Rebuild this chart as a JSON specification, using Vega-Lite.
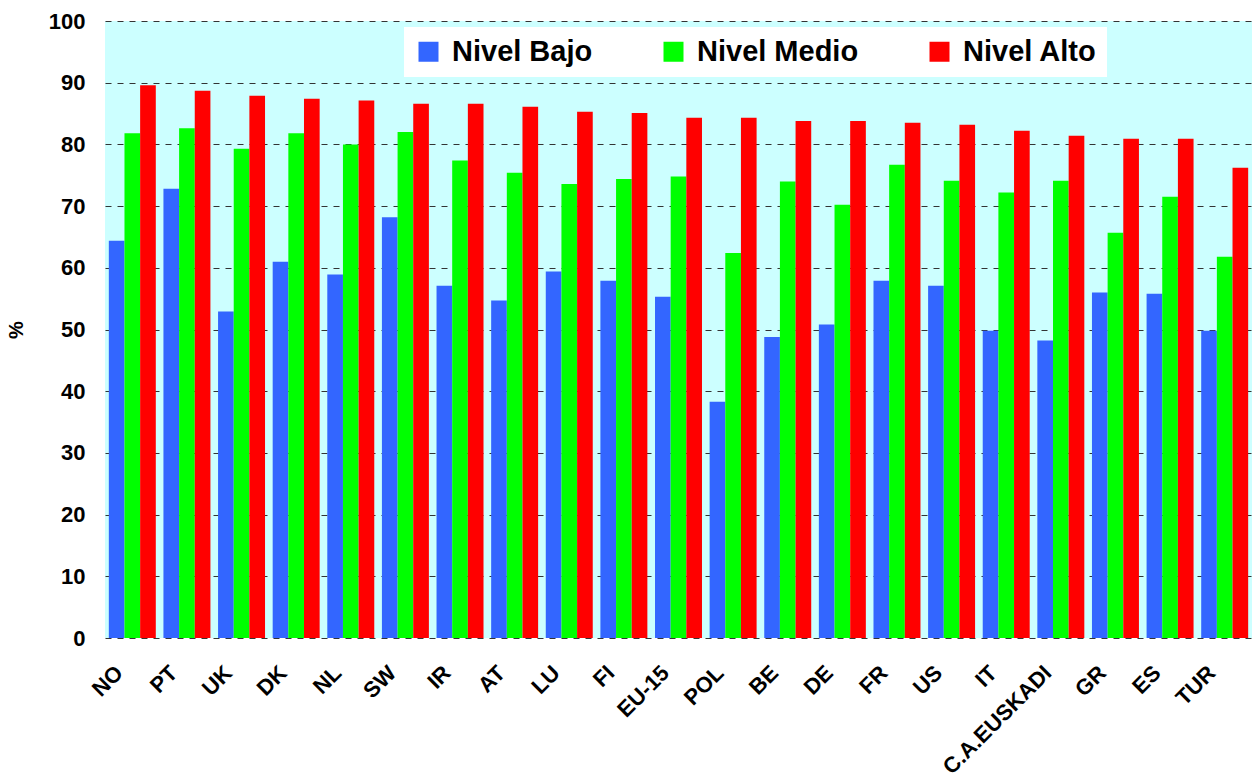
{
  "$schema": "https://vega.github.io/schema/vega-lite/v6.json",
  "width": 1147,
  "height": 617,
  "autosize": {"type": "none"},
  "padding": {"left": 105, "top": 21, "right": 1, "bottom": 144},
  "background": "white",
  "config": {
    "font": "Liberation Sans",
    "view": {"fill": "#CCFFFF", "stroke": null},
    "axis": {"labelFont": "Liberation Sans", "titleFont": "Liberation Sans"}
  },
  "data": {
    "values": [
      {"pais": "NO", "nivel": "Nivel Bajo", "valor": 64.4},
      {"pais": "NO", "nivel": "Nivel Medio", "valor": 81.8},
      {"pais": "NO", "nivel": "Nivel Alto", "valor": 89.6},
      {"pais": "PT", "nivel": "Nivel Bajo", "valor": 72.8},
      {"pais": "PT", "nivel": "Nivel Medio", "valor": 82.6},
      {"pais": "PT", "nivel": "Nivel Alto", "valor": 88.7},
      {"pais": "UK", "nivel": "Nivel Bajo", "valor": 52.9},
      {"pais": "UK", "nivel": "Nivel Medio", "valor": 79.3},
      {"pais": "UK", "nivel": "Nivel Alto", "valor": 87.9},
      {"pais": "DK", "nivel": "Nivel Bajo", "valor": 61.0},
      {"pais": "DK", "nivel": "Nivel Medio", "valor": 81.8},
      {"pais": "DK", "nivel": "Nivel Alto", "valor": 87.4},
      {"pais": "NL", "nivel": "Nivel Bajo", "valor": 58.9},
      {"pais": "NL", "nivel": "Nivel Medio", "valor": 80.0},
      {"pais": "NL", "nivel": "Nivel Alto", "valor": 87.1},
      {"pais": "SW", "nivel": "Nivel Bajo", "valor": 68.2},
      {"pais": "SW", "nivel": "Nivel Medio", "valor": 82.0},
      {"pais": "SW", "nivel": "Nivel Alto", "valor": 86.6},
      {"pais": "IR", "nivel": "Nivel Bajo", "valor": 57.1},
      {"pais": "IR", "nivel": "Nivel Medio", "valor": 77.4},
      {"pais": "IR", "nivel": "Nivel Alto", "valor": 86.6},
      {"pais": "AT", "nivel": "Nivel Bajo", "valor": 54.7},
      {"pais": "AT", "nivel": "Nivel Medio", "valor": 75.4},
      {"pais": "AT", "nivel": "Nivel Alto", "valor": 86.1},
      {"pais": "LU", "nivel": "Nivel Bajo", "valor": 59.4},
      {"pais": "LU", "nivel": "Nivel Medio", "valor": 73.6},
      {"pais": "LU", "nivel": "Nivel Alto", "valor": 85.3},
      {"pais": "FI", "nivel": "Nivel Bajo", "valor": 57.9},
      {"pais": "FI", "nivel": "Nivel Medio", "valor": 74.4},
      {"pais": "FI", "nivel": "Nivel Alto", "valor": 85.1},
      {"pais": "EU-15", "nivel": "Nivel Bajo", "valor": 55.3},
      {"pais": "EU-15", "nivel": "Nivel Medio", "valor": 74.8},
      {"pais": "EU-15", "nivel": "Nivel Alto", "valor": 84.3},
      {"pais": "POL", "nivel": "Nivel Bajo", "valor": 38.3},
      {"pais": "POL", "nivel": "Nivel Medio", "valor": 62.4},
      {"pais": "POL", "nivel": "Nivel Alto", "valor": 84.3},
      {"pais": "BE", "nivel": "Nivel Bajo", "valor": 48.8},
      {"pais": "BE", "nivel": "Nivel Medio", "valor": 74.0},
      {"pais": "BE", "nivel": "Nivel Alto", "valor": 83.8},
      {"pais": "DE", "nivel": "Nivel Bajo", "valor": 50.8},
      {"pais": "DE", "nivel": "Nivel Medio", "valor": 70.2},
      {"pais": "DE", "nivel": "Nivel Alto", "valor": 83.8},
      {"pais": "FR", "nivel": "Nivel Bajo", "valor": 57.9},
      {"pais": "FR", "nivel": "Nivel Medio", "valor": 76.7},
      {"pais": "FR", "nivel": "Nivel Alto", "valor": 83.5},
      {"pais": "US", "nivel": "Nivel Bajo", "valor": 57.1},
      {"pais": "US", "nivel": "Nivel Medio", "valor": 74.1},
      {"pais": "US", "nivel": "Nivel Alto", "valor": 83.2},
      {"pais": "IT", "nivel": "Nivel Bajo", "valor": 49.8},
      {"pais": "IT", "nivel": "Nivel Medio", "valor": 72.2},
      {"pais": "IT", "nivel": "Nivel Alto", "valor": 82.2},
      {"pais": "C.A.EUSKADI", "nivel": "Nivel Bajo", "valor": 48.2},
      {"pais": "C.A.EUSKADI", "nivel": "Nivel Medio", "valor": 74.1},
      {"pais": "C.A.EUSKADI", "nivel": "Nivel Alto", "valor": 81.4},
      {"pais": "GR", "nivel": "Nivel Bajo", "valor": 56.0},
      {"pais": "GR", "nivel": "Nivel Medio", "valor": 65.7},
      {"pais": "GR", "nivel": "Nivel Alto", "valor": 80.9},
      {"pais": "ES", "nivel": "Nivel Bajo", "valor": 55.8},
      {"pais": "ES", "nivel": "Nivel Medio", "valor": 71.5},
      {"pais": "ES", "nivel": "Nivel Alto", "valor": 80.9},
      {"pais": "TUR", "nivel": "Nivel Bajo", "valor": 49.8},
      {"pais": "TUR", "nivel": "Nivel Medio", "valor": 61.8},
      {"pais": "TUR", "nivel": "Nivel Alto", "valor": 76.2}
    ]
  },
  "mark": {"type": "bar"},
  "encoding": {
    "x": {
      "field": "pais",
      "type": "nominal",
      "sort": null,
      "scale": {"paddingInner": 0.14, "paddingOuter": 0.07},
      "axis": {
        "title": null,
        "labelAngle": -45,
        "labelAlign": "right",
        "labelBaseline": "middle",
        "labelFontSize": 22,
        "labelFontWeight": "bold",
        "labelColor": "black",
        "labelPadding": 31,
        "labelOffset": -13,
        "ticks": false,
        "domain": false,
        "grid": false
      }
    },
    "xOffset": {
      "field": "nivel",
      "type": "nominal",
      "sort": ["Nivel Bajo", "Nivel Medio", "Nivel Alto"],
      "scale": {"paddingInner": 0, "paddingOuter": 0}
    },
    "y": {
      "field": "valor",
      "type": "quantitative",
      "scale": {"domain": [0, 100], "nice": false},
      "axis": {
        "title": "%",
        "titleFontSize": 20,
        "titleFontWeight": "bold",
        "titleColor": "black",
        "titlePadding": 22,
        "values": [0, 10, 20, 30, 40, 50, 60, 70, 80, 90, 100],
        "labelFontSize": 22,
        "labelFontWeight": "bold",
        "labelColor": "black",
        "labelPadding": 20,
        "ticks": false,
        "domain": false,
        "grid": true,
        "gridColor": "#333333",
        "gridDash": [6, 6],
        "gridWidth": 1.2
      }
    },
    "color": {
      "field": "nivel",
      "type": "nominal",
      "sort": ["Nivel Bajo", "Nivel Medio", "Nivel Alto"],
      "scale": {
        "domain": ["Nivel Bajo", "Nivel Medio", "Nivel Alto"],
        "range": ["#3366FF", "#00FF00", "#FF0000"]
      },
      "legend": {
        "title": null,
        "orient": "none",
        "direction": "horizontal",
        "legendX": 299,
        "legendY": 6,
        "padding": 10,
        "fillColor": "white",
        "symbolType": "square",
        "symbolSize": 400,
        "symbolStrokeWidth": 0,
        "symbolOpacity": 1,
        "labelFontSize": 29,
        "labelFontWeight": "bold",
        "labelColor": "black",
        "labelOffset": 9,
        "labelLimit": 300,
        "columnPadding": 66
      }
    }
  }
}
